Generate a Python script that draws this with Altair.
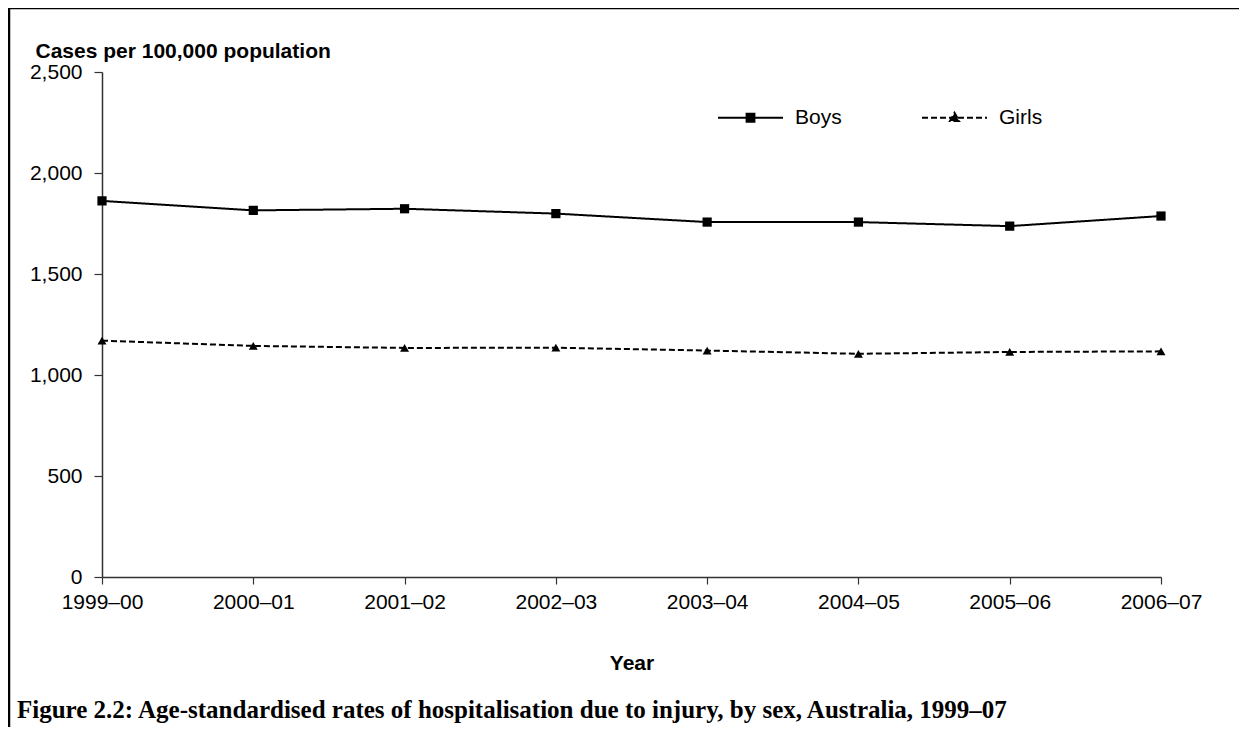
import altair as alt
import pandas as pd

years = ["1999–00", "2000–01", "2001–02", "2002–03", "2003–04", "2004–05", "2005–06", "2006–07"]
boys = [1862, 1815, 1823, 1799, 1757, 1757, 1737, 1787]
girls = [1170, 1144, 1134, 1135, 1121, 1105, 1114, 1117]
series = ["Boys", "Girls"]
y_ticks = [0, 500, 1000, 1500, 2000, 2500]

df = pd.DataFrame({
    "Year": years * 2,
    "Rate": boys + girls,
    "Sex": ["Boys"] * len(years) + ["Girls"] * len(years),
})

FONT = "Liberation Sans"
AX = "#333333"

x_enc = alt.X("Year:N", sort=years, title="Year",
              scale=alt.Scale(type="point", padding=0),
              axis=alt.Axis(labelAngle=0, labelFont=FONT, labelFontSize=21, labelColor="black",
                            titleFont=FONT, titleFontSize=21, titleFontWeight="bold", titleColor="black",
                            titlePadding=40, labelPadding=7, tickSize=7, tickColor=AX,
                            domainColor=AX, domainWidth=1.5, tickWidth=1.2, grid=False))
y_enc = alt.Y("Rate:Q", title="Cases per 100,000 population",
              scale=alt.Scale(domain=[0, 2500], nice=False),
              axis=alt.Axis(values=y_ticks, format=",.0f", labelFont=FONT, labelFontSize=21,
                            labelColor="black", labelPadding=12, tickSize=8, tickColor=AX,
                            domainColor=AX, domainWidth=1.5, tickWidth=1.2, grid=False,
                            titleFont=FONT, titleFontSize=21, titleFontWeight="bold",
                            titleColor="black", titleAngle=0, titleAlign="left",
                            titleBaseline="alphabetic", titleX=-67, titleY=-15))

boys_sym = "M-1,0L1,0M-0.12,-0.12L0.12,-0.12L0.12,0.12L-0.12,0.12Z"
girls_sym = "M-1,0L1,0M0,-0.15L0.14,0.1L-0.14,0.1Z"
shape_expr = "datum.value === 'Boys' ? '" + boys_sym + "' : '" + girls_sym + "'"

lines = alt.Chart(df).mark_line(color="black", strokeWidth=2).encode(
    x=x_enc, y=y_enc,
    strokeDash=alt.StrokeDash("Sex:N", scale=alt.Scale(domain=series, range=[[1, 0], [6, 3]]),
                              legend=alt.Legend(title=None, orient="none", direction="horizontal",
                                                legendX=615, legendY=12, symbolSize=4225,
                                                symbolType={"expr": shape_expr},
                                                symbolFillColor="black",
                                                symbolStrokeWidth=2, symbolStrokeColor="black",
                                                labelFont=FONT, labelFontSize=21, labelColor="black",
                                                labelOffset=11, columnPadding=76)),
)

boys_pts = alt.Chart(df).transform_filter(alt.datum.Sex == "Boys").mark_point(
    shape="square", filled=True, size=85, color="black", opacity=1
).encode(x=x_enc, y=y_enc)

girls_pts = alt.Chart(df).transform_filter(alt.datum.Sex == "Girls").mark_point(
    shape="triangle-up", filled=True, size=80, color="black", opacity=1
).encode(x=x_enc, y=y_enc)

frame = alt.Chart(alt.Data(values=[{"a": 1}])).mark_rect(
    filled=False, stroke="black", strokeWidth=2.5, clip=False
).encode(x=alt.value(-93), x2=alt.value(1400), y=alt.value(-64), y2=alt.value(660))

chart = alt.layer(lines, boys_pts, girls_pts, frame).properties(
    width=1059, height=505,
    background="white",
    autosize=alt.AutoSizeParams(type="none"),
    padding={"left": 94, "top": 64, "right": 78, "bottom": 150},
    title=alt.TitleParams(
        "Figure 2.2: Age-standardised rates of hospitalisation due to injury, by sex, Australia, 1999–07",
        orient="bottom", anchor="start", frame="group", font="Liberation Serif", fontSize=25,
        fontWeight="bold", color="black", offset=-35, dx=-85),
).configure_view(strokeWidth=0)

chart.save("out.html", embed_options={"renderer": "svg", "actions": False})
